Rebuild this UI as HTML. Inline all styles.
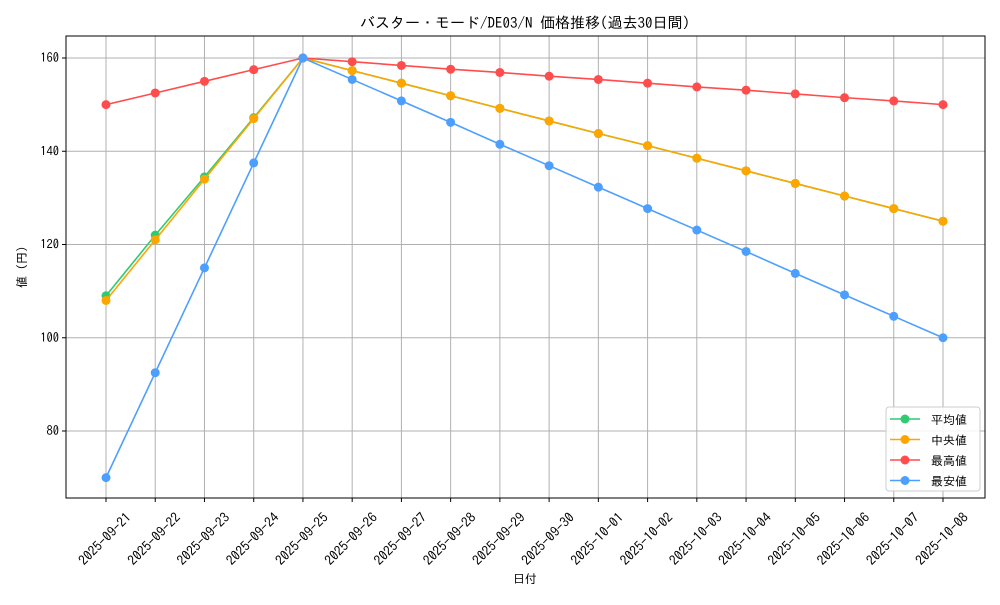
<!DOCTYPE html>
<html><head><meta charset="utf-8"><style>
body{margin:0;background:#fff;}
svg{font-family:"IPAGothic","Noto Sans CJK JP",sans-serif;}
</style></head><body>
<svg id="c" width="1000" height="600"></svg>
<script>
const categories=["2025-09-21","2025-09-22","2025-09-23","2025-09-24","2025-09-25","2025-09-26","2025-09-27","2025-09-28","2025-09-29","2025-09-30","2025-10-01","2025-10-02","2025-10-03","2025-10-04","2025-10-05","2025-10-06","2025-10-07","2025-10-08"];
const meanVals=[109,122,134.5,147.2,160,157.3,154.6,151.9,149.2,146.5,143.8,141.2,138.5,135.8,133.1,130.4,127.7,125];
const medianVals=[108,121,134,147,160,157.3,154.6,151.9,149.2,146.5,143.8,141.2,138.5,135.8,133.1,130.4,127.7,125];
const maxVals=[150,152.5,155,157.5,160,159.2,158.4,157.6,156.9,156.1,155.4,154.6,153.8,153.1,152.3,151.5,150.8,150];
const minVals=[70,92.5,115,137.5,160,155.4,150.8,146.2,141.5,136.9,132.3,127.7,123.1,118.5,113.8,109.2,104.6,100];
const yTicks=[80,100,120,140,160];
const seriesNames=["平均値","中央値","最高値","最安値"];
const ns="http://www.w3.org/2000/svg",svg=document.getElementById('c');
const L=66,R=985,T=36,B=498;
const x=i=>106+i*(943-106)/(categories.length-1);
const y=v=>431-(v-80)*(373/80);
function el(t,a,p){const e=document.createElementNS(ns,t);for(const k in a)e.setAttribute(k,a[k]);(p||svg).appendChild(e);return e;}
function txt(s,a){const e=el('text',a);e.textContent=s;return e;}
categories.forEach((c,i)=>{
 const g=el('line',{x1:x(i),x2:x(i),y1:T,y2:B,stroke:'#b0b0b0','stroke-width':1});
 
 el('line',{x1:x(i),x2:x(i),y1:B,y2:B+4,stroke:'#000'});
 const ax=x(i)-1,ay=539;
 const t=txt(c,{x:ax,y:ay+4.5,'font-size':13.5,'text-anchor':'middle',transform:`rotate(-45 ${ax} ${ay})`});
 
});
yTicks.forEach(v=>{
 const g=el('line',{x1:L,x2:R,y1:y(v),y2:y(v),stroke:'#b0b0b0','stroke-width':1});
 
 el('line',{x1:L-4,x2:L,y1:y(v),y2:y(v),stroke:'#000'});
 const t=txt(v,{x:L-7,y:y(v)+4,'font-size':12.5,'text-anchor':'end'});
 
});
const frame=el('rect',{x:L,y:T,width:R-L,height:B-T,fill:'none',stroke:'#000','stroke-width':1});

const colors=['#2ecc71','#ffa500','#ff4d4d','#4d9fff'];
[meanVals,medianVals,maxVals,minVals].forEach((vals,s)=>{
 const p=el('polyline',{points:vals.map((v,i)=>x(i)+','+y(v)).join(' '),fill:'none',stroke:colors[s],'stroke-width':1.6});
 
 vals.forEach((v,i)=>{const c=el('circle',{cx:x(i),cy:y(v),r:4.5,fill:colors[s]});
 });
});
const tt=txt('バスター・モード/DE03/N 価格推移(過去30日間)',{x:525,y:28,'font-size':15,'text-anchor':'middle'});

const xt=txt('日付',{x:525,y:583,'font-size':12,'text-anchor':'middle'});

const yt=txt('値 (円)',{x:26,y:267,'font-size':12,'text-anchor':'middle',transform:'rotate(-90 26 267)'});

const lg=el('rect',{x:886,y:407,width:94,height:84,rx:3,fill:'#fff','fill-opacity':0.85,stroke:'#ccc'});

seriesNames.forEach((n,s)=>{
 const yy=419+s*20.5;
 el('line',{x1:890,x2:920,y1:yy,y2:yy,stroke:colors[s],'stroke-width':1.6});
 el('circle',{cx:905,cy:yy,r:4.5,fill:colors[s]});
 const t=txt(n,{x:931,y:yy+5,'font-size':12});
 
});
</script>
</body></html>
